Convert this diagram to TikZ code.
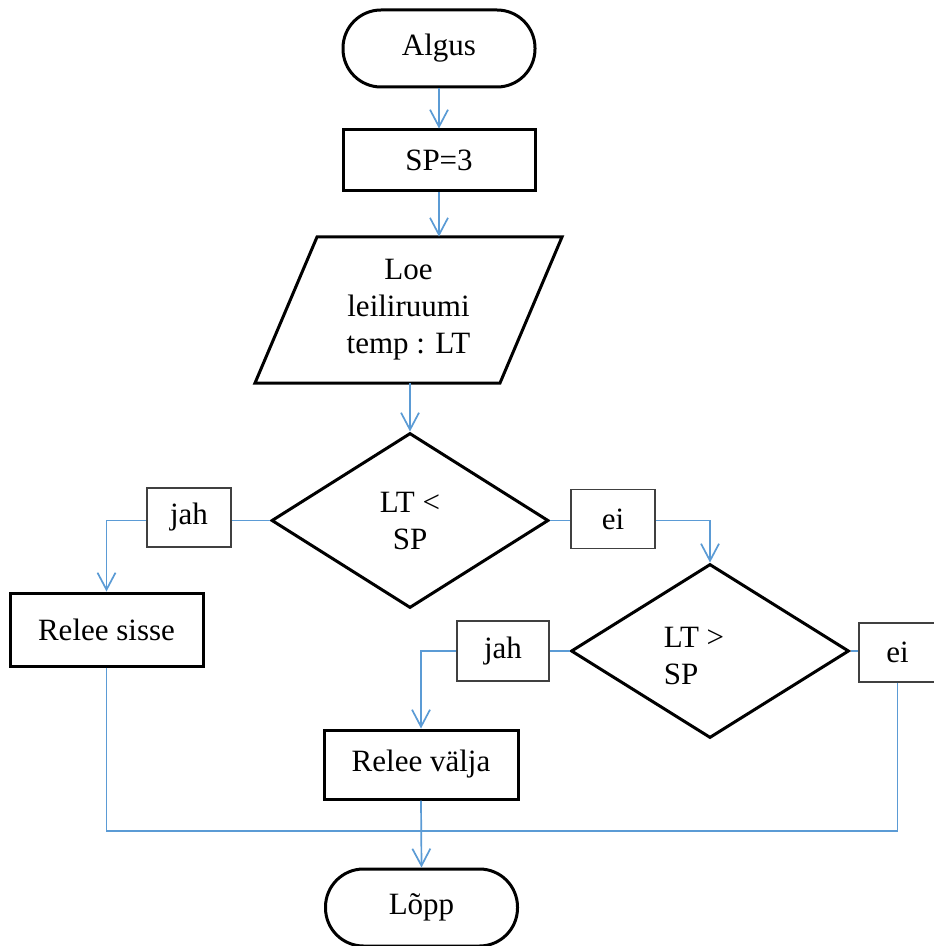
\documentclass[tikz,border=0pt]{standalone}
\usepackage{fontspec}
\setmainfont{Liberation Serif}
\usetikzlibrary{shapes.geometric,arrows.meta}
\definecolor{flowblue}{HTML}{5B9BD5}
\begin{document}
\begin{tikzpicture}[x=0.5pt,y=-0.5pt,
  base/.style={font=\fontsize{15.5}{18.5}\selectfont, inner sep=0pt, align=center},
  term/.style={base, draw=black, line width=1.5pt, fill=white, rectangle, rounded corners=19pt, minimum width=96pt, minimum height=38.5pt},
  proc/.style={base, draw=black, line width=1.5pt, fill=white, rectangle},
  decision/.style={base, draw=black, line width=1.5pt, fill=white, diamond, minimum width=138.5pt, minimum height=87.5pt},
  tag/.style={base, draw=black!75, line width=0.9pt, fill=white, rectangle, minimum height=29.5pt},
  flow/.style={draw=flowblue, line width=0.85pt},
  flowarrow/.style={flow, -{Straight Barb[length=8.5pt,width=9pt]}},
]
\useasboundingbox (0,0) rectangle (933,946);

% shapes
\node[term] (algus) at (439,48.5) {Algus};
\node[proc, minimum width=96pt, minimum height=30.5pt] (sp3) at (439,160.5) {SP=3};
\draw[line width=1.5pt, fill=white] (317,237) -- (562,237) -- (500,383) -- (255,383) -- cycle;
\node[base, minimum height=73pt] (para) at (408.5,310) {Loe\\leiliruumi\\temp : LT};
\node[decision] (d1) at (410,520.5) {LT <\\SP};
\node[tag, minimum width=42pt] (jah1) at (189,517.5) {jah};
\node[tag, minimum width=42pt] (ei1) at (613,519) {ei};
\node[proc, minimum width=96.5pt, minimum height=36.5pt] (rs) at (106.5,629.5) {Relee sisse};
\node[decision, minimum width=139pt, minimum height=87pt] (d2) at (710,651) {};
\node[base, align=left] (d2text) at (694,656) {LT >\\SP};
\node[tag, minimum width=46pt, minimum height=30pt] (jah2) at (503,651) {jah};
\node[tag, minimum width=38.5pt] (ei2) at (897.5,652.5) {ei};
\node[proc, minimum width=97pt, minimum height=34.5pt] (rv) at (421,764.5) {Relee välja};
\coordinate (merge) at (421,831);
\node[term] (lopp) at (421.5,907.5) {Lõpp};

% connectors
\draw[flowarrow] (algus.south) -- (sp3.north);
\draw[flowarrow] (sp3.south) -- (sp3.south |- para.north);
\draw[flowarrow] (d1.north |- para.south) -- (d1.north);
\draw[flow] (d1.west) -- (d1.west -| jah1.east);
\draw[flowarrow] (d1.west -| jah1.west) -| (rs.north);
\draw[flow] (d1.east) -- (d1.east -| ei1.west);
\draw[flowarrow] (d1.east -| ei1.east) -| (d2.north);
\draw[flow] (d2.west) -- (d2.west -| jah2.east);
\draw[flowarrow] (d2.west -| jah2.west) -| (rv.north);
\draw[flow] (d2.east) -- (d2.east -| ei2.west);
\draw[flow] (ei2.south) |- (merge);
\draw[flow] (rs.south) |- (merge);
\draw[flowarrow] (rv.south) -- (lopp.north);
\end{tikzpicture}
\end{document}
